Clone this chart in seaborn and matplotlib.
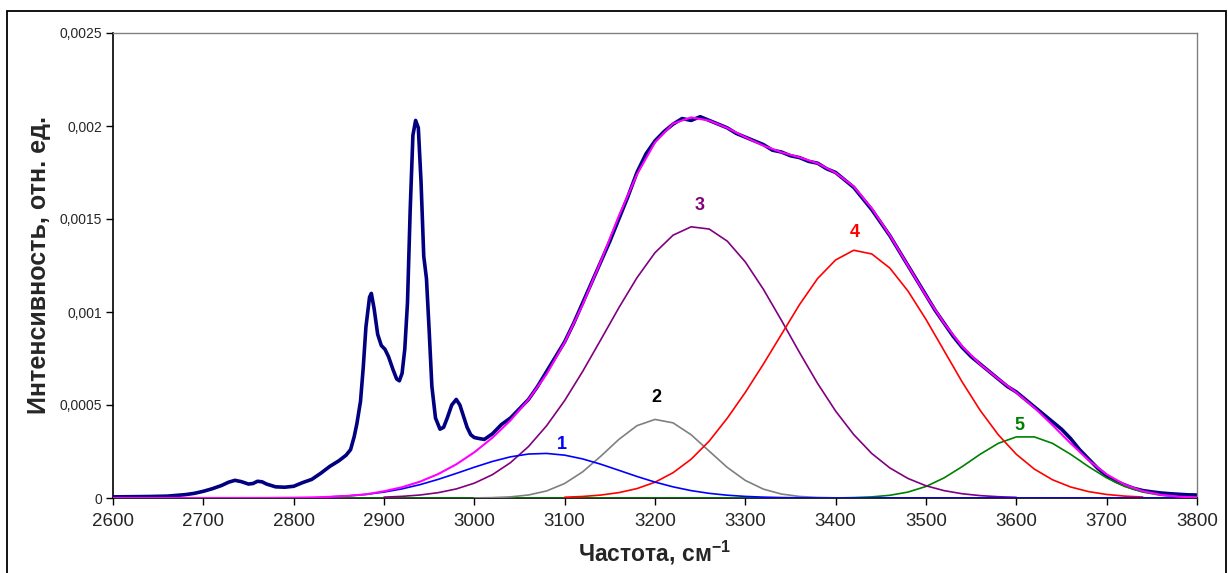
import matplotlib
matplotlib.use("Agg")
import matplotlib.pyplot as plt
import seaborn as sns
import pandas as pd
from matplotlib.patches import Rectangle

# ---------------- data ----------------
spec_x = [2600, 2620, 2640, 2660, 2680, 2690, 2700, 2710, 2720, 2728, 2735, 2742, 2750, 2755,
          2760, 2765, 2770, 2780, 2790, 2800, 2810, 2820, 2830, 2840, 2850, 2858, 2863, 2867,
          2870, 2874, 2877, 2880, 2884, 2886, 2889, 2893, 2897, 2901, 2905, 2910, 2914, 2917,
          2920, 2923, 2926, 2929, 2932, 2935, 2938, 2941, 2944, 2947, 2950, 2953, 2957, 2962,
          2966, 2970, 2975, 2980, 2984, 2988, 2992, 2996, 3000, 3005, 3011, 3020, 3030, 3040,
          3050, 3060, 3070, 3080, 3090, 3100, 3110, 3120, 3130, 3140, 3150, 3160, 3170, 3180,
          3190, 3200, 3210, 3220, 3230, 3240, 3250, 3260, 3270, 3280, 3290, 3300, 3310, 3320,
          3330, 3340, 3350, 3360, 3370, 3380, 3390, 3400, 3410, 3420, 3430, 3440, 3450, 3460,
          3470, 3480, 3490, 3500, 3510, 3520, 3530, 3540, 3550, 3560, 3570, 3580, 3590, 3600,
          3610, 3620, 3630, 3640, 3650, 3660, 3670, 3680, 3690, 3700, 3710, 3720, 3730, 3740,
          3750, 3760, 3770, 3780, 3790, 3800]
spec_y = [0.000006, 0.000007, 0.000008, 0.00001, 0.000018, 0.000025, 0.000036, 0.00005, 0.000067,
          0.000085, 0.000095, 0.000088, 0.000075, 0.000078, 0.00009, 0.000087, 0.000075, 0.00006,
          0.000058, 0.000063, 0.000083, 0.0001, 0.000133, 0.00017, 0.0002, 0.00023, 0.00026,
          0.00033, 0.0004, 0.00052, 0.0007, 0.00092, 0.00108, 0.0011, 0.00102, 0.00088, 0.00082,
          0.0008, 0.00076, 0.00069, 0.00064, 0.00063, 0.00067, 0.0008, 0.00105, 0.00155, 0.00195,
          0.00203, 0.00199, 0.0017, 0.0013, 0.00118, 0.0009, 0.0006, 0.00043, 0.00037, 0.00038,
          0.00043, 0.0005, 0.00053, 0.0005, 0.00044, 0.00038, 0.00034, 0.000325, 0.00032,
          0.000315, 0.000345, 0.000395, 0.00043, 0.00048, 0.00053, 0.0006, 0.00068, 0.00076,
          0.00084, 0.00094, 0.00105, 0.00116, 0.00127, 0.00138, 0.0015, 0.00162, 0.00175,
          0.00185, 0.00192, 0.00197, 0.00201, 0.00204, 0.00203, 0.00205, 0.00203, 0.00201,
          0.00199, 0.00196, 0.00194, 0.00192, 0.0019, 0.00187, 0.00186, 0.00184, 0.00183, 0.00181,
          0.0018, 0.00177, 0.00175, 0.00171, 0.00167, 0.00161, 0.00155, 0.00148, 0.00141, 0.00133,
          0.00125, 0.00117, 0.00109, 0.00101, 0.00094, 0.00087, 0.00081, 0.00076, 0.00072, 0.00068,
          0.00064, 0.0006, 0.00057, 0.00053, 0.00049, 0.00045, 0.00041, 0.00037, 0.00032,
          0.00026, 0.00021, 0.00016, 0.00012, 0.00009, 0.00007, 0.000052, 0.00004, 0.000033,
          0.000027, 0.000023, 0.00002, 0.000017, 0.000016]

b1_x = [2840, 2860, 2880, 2900, 2920, 2940, 2960, 2980, 3000, 3020, 3040, 3060, 3080, 3100, 3120,
        3140, 3160, 3180, 3200, 3220, 3240, 3260, 3280, 3300, 3320, 3340, 3360, 3380, 3400, 3500,
        3600, 3700, 3800]
b1_y = [0.0000062, 0.0000113, 0.0000195, 0.0000318, 0.0000491, 0.000072, 0.0001002, 0.0001322,
        0.0001655, 0.0001965, 0.0002213, 0.0002364, 0.0002396, 0.0002303, 0.00021, 0.0001816,
        0.0001489, 0.0001158, 0.0000855, 0.0000599, 0.0000397, 0.000025, 0.000015, 0.0000085,
        0.0000046, 0.0000023, 0.0000011, 0.0000005, 0.0000002, 0.0, 0.0, 0.0, 0.0]

b2_x = [3000, 3020, 3040, 3060, 3080, 3100, 3120, 3140, 3160, 3180, 3200, 3220, 3240, 3260, 3280,
        3300, 3320, 3340, 3360, 3380, 3400]
b2_y = [0.0000006, 0.000002, 0.0000061, 0.0000162, 0.0000379, 0.000078, 0.000141, 0.0002247,
        0.000315, 0.0003888, 0.0004224, 0.000404, 0.00034, 0.000252, 0.0001644, 0.0000944,
        0.0000477, 0.0000212, 0.0000083, 0.0000029, 0.0000009]

b3_x = [2900, 2920, 2940, 2960, 2980, 3000, 3020, 3040, 3060, 3080, 3100, 3120, 3140, 3160, 3180,
        3200, 3220, 3240, 3260, 3280, 3300, 3320, 3340, 3360, 3380, 3400, 3420, 3440, 3460, 3480,
        3500, 3520, 3540, 3560, 3580, 3600]
b3_y = [0.0000046, 0.0000088, 0.0000162, 0.0000287, 0.0000487, 0.0000797, 0.0001254, 0.00019,
        0.0002769, 0.0003884, 0.000524, 0.000681, 0.000851, 0.001023, 0.001184, 0.001319,
        0.001413, 0.001458, 0.001446, 0.001381, 0.001269, 0.001122, 0.000955, 0.000782,
        0.000616, 0.000467, 0.000341, 0.000239, 0.0001616, 0.0001051, 0.0000657, 0.0000396,
        0.0000229, 0.0000128, 0.0000069, 0.0000035]

b4_x = [3100, 3120, 3140, 3160, 3180, 3200, 3220, 3240, 3260, 3280, 3300, 3320, 3340, 3360, 3380,
        3400, 3420, 3440, 3460, 3480, 3500, 3520, 3540, 3560, 3580, 3600, 3620, 3640, 3660, 3680,
        3700, 3720, 3740]
b4_y = [0.0000041, 0.0000082, 0.0000158, 0.0000289, 0.0000506, 0.0000848, 0.000136, 0.0002085,
        0.000306, 0.000429, 0.000568, 0.00072, 0.00088, 0.00104, 0.00118, 0.00128, 0.001332,
        0.001312, 0.001236, 0.001113, 0.00096, 0.000792, 0.000624, 0.000471, 0.00034, 0.000235,
        0.0001553, 0.0000981, 0.0000593, 0.0000343, 0.000019, 0.0000101, 0.0000051]

b5_x = [2840, 3000, 3200, 3400, 3420, 3440, 3460, 3480, 3500, 3520, 3540, 3560, 3580, 3600, 3620,
        3640, 3660, 3680, 3700, 3720, 3740, 3760, 3780, 3800]
b5_y = [0.0, 0.0, 0.0, 0.0000001, 0.0000022, 0.000006, 0.0000146, 0.0000318, 0.000062, 0.0001081,
        0.0001686, 0.0002353, 0.0002939, 0.0003284, 0.0003284, 0.0002939, 0.0002353, 0.0001686,
        0.0001081, 0.000062, 0.0000318, 0.0000146, 0.000006, 0.0000022]

fit_x = [2600, 2700, 2760, 2780, 2800, 2820, 2840, 2860, 2880, 2900, 2920, 2940, 2960, 2980, 3000,
         3020, 3040, 3060, 3080, 3100, 3120, 3140, 3160, 3180, 3200, 3220, 3240, 3260, 3280, 3300,
         3320, 3340, 3360, 3380, 3400, 3420, 3440, 3460, 3480, 3500, 3520, 3540, 3560, 3580, 3600,
         3620, 3640, 3660, 3680, 3700, 3720, 3740, 3760, 3780, 3800]
fit_y = [0.0, 0.0000001, 0.0000003, 0.0000007, 0.0000016, 0.0000033, 0.0000062, 0.0000113,
         0.0000195, 0.0000364, 0.0000579, 0.0000882, 0.0001289, 0.0001809, 0.0002458, 0.0003239,
         0.0004174, 0.0005295, 0.0006659, 0.0008364, 0.0010402, 0.0012731, 0.0015158, 0.0017392,
         0.0019117, 0.0020129, 0.0020462, 0.002029, 0.0019894, 0.0019399, 0.0018943, 0.0018585,
         0.0018314, 0.0017994, 0.001748, 0.0016752, 0.001557, 0.0014122, 0.0012499, 0.0010877,
         0.0009397, 0.0008155, 0.0007191, 0.0006408, 0.0005669, 0.0004854, 0.000392, 0.0002946,
         0.0002029, 0.0001271, 0.0000721, 0.0000369, 0.0000171, 0.0000072, 0.0000027]

band_labels = ["1", "2", "3", "4", "5"]
band_label_x = [3097, 3201, 3249, 3421, 3603]
band_label_y = [0.000285, 0.00054, 0.00157, 0.001425, 0.000392]

x_ticks = [2600, 2700, 2800, 2900, 3000, 3100, 3200, 3300, 3400, 3500, 3600, 3700, 3800]
y_ticks = [0, 0.0005, 0.001, 0.0015, 0.002, 0.0025]
y_tick_labels = ["0", "0,0005", "0,001", "0,0015", "0,002", "0,0025"]

x_label = "Частота, см$^{-1}$"
y_label = "Интенсивность, отн. ед."

# ---------------- style ----------------
sns.set_style("white")
plt.rcParams["font.family"] = ["Liberation Sans", "DejaVu Sans"]
plt.rcParams["mathtext.fontset"] = "custom"
plt.rcParams["mathtext.rm"] = "Liberation Sans:bold"
plt.rcParams["mathtext.it"] = "Liberation Sans:bold"
plt.rcParams["mathtext.bf"] = "Liberation Sans:bold"

fig = plt.figure(figsize=(12.28, 5.73), dpi=100)
ax = fig.add_axes([113 / 1228, 1 - 498 / 573, (1197 - 113) / 1228, (498 - 33) / 573])

# outer frame
fig.patches.append(Rectangle((7 / 1228, -0.02), (1226 - 7) / 1228, 1 - 11 / 573 + 0.02,
                             transform=fig.transFigure, fill=False, edgecolor="black",
                             linewidth=1.3, zorder=0))

def draw(xs, ys, color, lw, z):
    df = pd.DataFrame({"x": xs, "y": ys})
    sns.lineplot(data=df, x="x", y="y", ax=ax, color=color, linewidth=lw,
                 estimator=None, sort=False, zorder=z)

draw(spec_x, spec_y, "#000080", 2.6, 2)
draw(b5_x, b5_y, "#008000", 1.2, 3)
draw(b2_x, b2_y, "#808080", 1.2, 3)
draw(b3_x, b3_y, "#800080", 1.2, 3)
draw(b4_x, b4_y, "#FF0000", 1.2, 3)
draw(b1_x, b1_y, "#0000FF", 1.2, 4)
draw(fit_x, fit_y, "#FF00FF", 1.5, 5)

label_colors = ["#0000FF", "#000000", "#800080", "#FF0000", "#008000"]
for t, lx, ly, c in zip(band_labels, band_label_x, band_label_y, label_colors):
    ax.text(lx, ly, t, color=c, fontsize=13, fontweight="bold", ha="center", va="center")

ax.set_xlim(2600, 3800)
ax.set_ylim(0, 0.0025)
ax.set_xticks(x_ticks)
ax.set_xticklabels([str(v) for v in x_ticks], fontsize=13.5)
ax.set_yticks(y_ticks)
ax.set_yticklabels(y_tick_labels, fontsize=10)
ax.tick_params(axis="both", direction="out", length=5, width=1, color="black", pad=3)
ax.tick_params(axis="x", pad=6)
ax.tick_params(bottom=True, left=True)

for s in ["left", "bottom"]:
    ax.spines[s].set_color("black")
    ax.spines[s].set_linewidth(1.2)
for s in ["top", "right"]:
    ax.spines[s].set_color("#808080")
    ax.spines[s].set_linewidth(1.0)

ax.set_xlabel(x_label, fontsize=16.5, fontweight="bold", labelpad=6)
ax.set_ylabel(y_label, fontsize=18, fontweight="bold", labelpad=6)
ax.grid(False)

fig.savefig("out.png", dpi=100)
